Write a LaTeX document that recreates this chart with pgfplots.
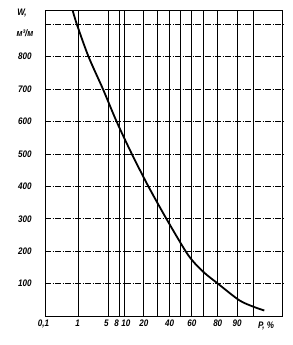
\documentclass[border=0pt]{standalone}
\usepackage{fontspec}
\setmainfont[FakeStretch=0.85]{Liberation Sans}
\usepackage{pgfplots}
\pgfplotsset{compat=1.18}
\newcommand{\sh}[2]{\makebox[0pt]{\hspace*{#1}#2}}
\begin{document}
\begin{tikzpicture}
\begin{axis}[
  scale only axis, width=238bp, height=306bp,
  at={(0,0)}, anchor=south west,
  xmin=0.1, xmax=99, ymin=0, ymax=944,
  x coord trafo/.code={%
    \pgfmathsetmacro\myp{#1/100}%
    \pgfmathsetmacro\myq{min(\myp,1-\myp)}%
    \pgfmathsetmacro\myt{sqrt(-2*ln(\myq))}%
    \pgfmathsetmacro\myz{\myt-(2.515517+0.802853*\myt+0.010328*\myt*\myt)/(1+1.432788*\myt+0.189269*\myt*\myt+0.001308*\myt*\myt*\myt)}%
    \pgfmathparse{(\myp<0.5 ? -1 : 1)*\myz}%
  },
  xtick={0.1,1,5,8,10,20,30,40,50,60,70,80,90,95},
  xticklabels={\sh{-3bp}{0,1},\sh{-2bp}{1},\sh{-4bp}{5},\sh{-5bp}{8},\sh{3bp}{10},20,,40,,60,,80,90,},
  ytick={100,200,300,400,500,600,700,800,900},
  yticklabels={100,200,300,400,500,600,700,800,},
  grid=major,
  x grid style={black, line width=0.8bp},
  y grid style={black, line width=0.8bp, dash pattern=on 6bp off 1.5bp on 1bp off 1.5bp},
  major tick length=0,
  axis line style={black, line width=1bp},
  tick label style={font=\fontsize{9.5}{11}\selectfont\bfseries\itshape},
  yticklabel style={xshift=-10bp},
]
\addplot[black, line width=1.8bp, smooth] coordinates {
(0.696,944) (0.91,900) (1.806,800) (3.855,700) (7.24,600) (13.30,500)
(23.06,400) (37.18,300) (54.37,200) (62.18,164) (70.78,132) (80.03,100)
(90.74,49) (94.99,29) (97.12,17)
};
\end{axis}
\node[font=\fontsize{9.5}{11}\selectfont\bfseries\itshape] at (-23bp,303bp) {W,};
\node[font=\fontsize{9.5}{11}\selectfont\bfseries\itshape] at (-20bp,283bp) {м³/м};
\node[font=\fontsize{9.5}{11}\selectfont\bfseries\itshape] at (221bp,-10bp) {P, \%};
\pgfresetboundingbox
\path (-45bp,-29bp) rectangle (248bp,316bp);
\end{tikzpicture}
\end{document}
